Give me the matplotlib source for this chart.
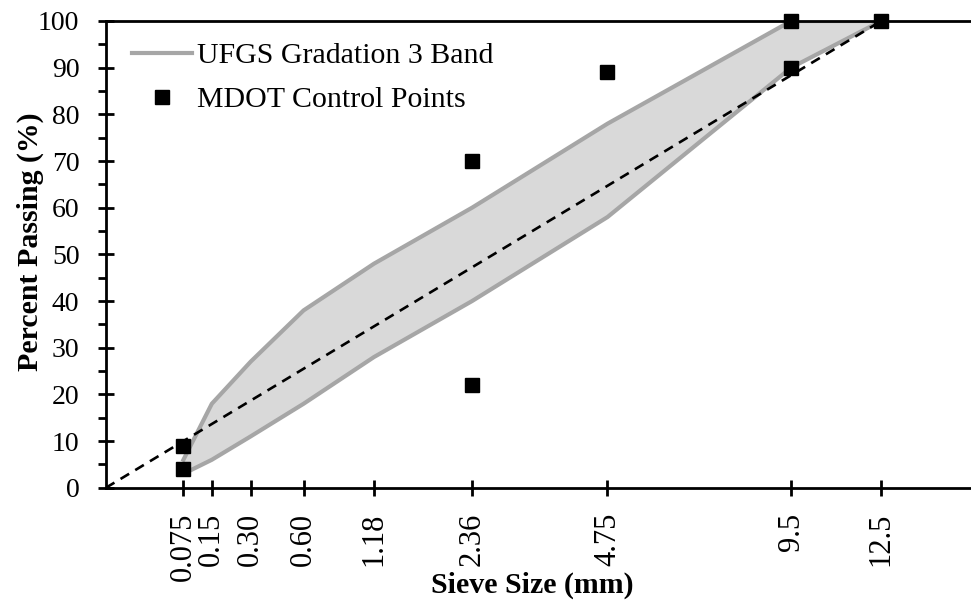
import numpy as np
import matplotlib
matplotlib.use("Agg")
import matplotlib.pyplot as plt
from matplotlib.ticker import FixedLocator, MultipleLocator

plt.rcParams['font.family'] = ['Liberation Serif', 'DejaVu Serif']
plt.rcParams['mathtext.fontset'] = 'stix'

# Data
sieve_sizes = [0.075, 0.15, 0.30, 0.60, 1.18, 2.36, 4.75, 9.5, 12.5]
sieve_labels = ['0.075', '0.15', '0.30', '0.60', '1.18', '2.36', '4.75', '9.5', '12.5']
band_upper = [6, 18, 27, 38, 48, 60, 78, 100, 100]
band_lower = [3, 6, 11, 18, 28, 40, 58, 90, 100]
mdot_sizes = [0.075, 0.075, 2.36, 2.36, 4.75, 9.5, 9.5, 12.5]
mdot_pass = [4, 9, 22, 70, 89, 90, 100, 100]
max_density_sizes = [0.0, 12.5]
max_density_pass = [0, 100]
power = 0.45

def p(v):
    return np.power(np.asarray(v, dtype=float), power)

fig = plt.figure(figsize=(9.71, 6.00), dpi=100)
ax = fig.add_axes([0.109, 0.187, 0.891, 0.778])

xs = p(sieve_sizes)
ax.fill_between(xs, band_lower, band_upper, color='#D9D9D9', linewidth=0, zorder=1)
ax.plot(xs, band_upper, color='#A6A6A6', linewidth=3, zorder=2,
        label='UFGS Gradation 3 Band', solid_joinstyle='miter')
ax.plot(xs, band_lower, color='#A6A6A6', linewidth=3, zorder=2, solid_joinstyle='miter')
ax.plot(p(max_density_sizes), max_density_pass, color='black', linewidth=1.9,
        linestyle=(0, (3.8, 2.7)), zorder=3)
ax.plot(p(mdot_sizes), mdot_pass, linestyle='none', marker='s', markersize=10,
        color='black', zorder=4, label='MDOT Control Points', clip_on=False)

ax.set_xlim(0, 3.477)
ax.set_ylim(0, 100)

ax.xaxis.set_major_locator(FixedLocator(xs))
ax.set_xticklabels(sieve_labels, rotation=90, fontsize=22)
ax.yaxis.set_major_locator(MultipleLocator(10))
ax.yaxis.set_minor_locator(MultipleLocator(5))
ax.tick_params(axis='y', which='major', direction='inout', length=12, width=2, labelsize=20, pad=13)
ax.tick_params(axis='y', which='minor', direction='out', length=6, width=2)
ax.tick_params(axis='x', which='major', direction='inout', length=12, width=2, pad=12)

for s in ['left', 'bottom', 'top']:
    ax.spines[s].set_linewidth(2)
ax.spines['right'].set_visible(False)

ax.set_ylabel('Percent Passing (%)', fontsize=21.5, fontweight='bold')
ax.yaxis.set_label_coords(-0.072, 0.527)
ax.set_xlabel('Sieve Size (mm)', fontsize=21.5, fontweight='bold')
ax.xaxis.set_label_coords(0.4925, -0.180)

leg = ax.legend(loc='upper left', bbox_to_anchor=(0.030, 0.954), frameon=False,
                fontsize=21.5, handlelength=2.0, handletextpad=0.17, labelspacing=0.57,
                borderaxespad=0.0, borderpad=0.0, numpoints=1)

fig.savefig('out.png', dpi=100)
